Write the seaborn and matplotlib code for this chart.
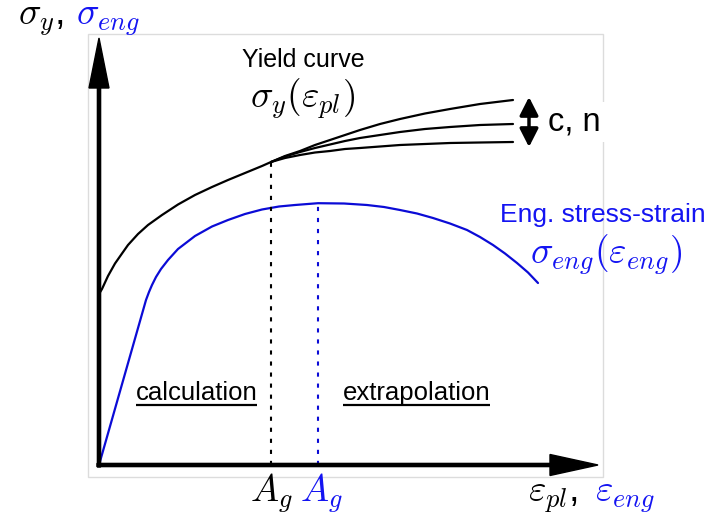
import numpy as np
import pandas as pd
import matplotlib
matplotlib.use("Agg")
import matplotlib.pyplot as plt
from matplotlib.patches import Rectangle
import seaborn as sns

# ---------------- data (schematic units) ----------------
# yield curve sigma_y(eps_pl) up to the uniform elongation A_g
yield_x = [0, 3, 9, 16, 23, 29, 39, 49, 63, 79, 96, 113, 129, 146, 163, 172]
yield_y = [171, 176, 189, 201.5, 211.5, 220, 231, 240, 250, 260.5, 270, 278, 285, 292, 299, 303]
# three extrapolated branches (different c, n)
branch_x = [172, 186, 201, 216, 231, 246, 261, 281, 301, 326, 351, 381, 414]
branch_top = [303, 309, 314, 320, 325, 330, 335, 341, 346, 351.5, 356, 361, 365]
branch_mid = [303, 308.5, 313, 317, 320.5, 324, 327, 330, 333, 336, 338, 340, 341]
branch_low = [303, 307, 310, 312.5, 314, 316, 317, 318.5, 320, 321, 322, 322.5, 323]
# engineering stress-strain curve
eng_x = [0, 47, 50, 53, 57, 62, 69, 79, 96, 113, 129, 146, 163, 180, 196, 219,
         245, 268, 285, 301, 318, 334, 351, 368, 381, 394, 406, 418, 429, 439]
eng_y = [0, 165, 173, 180, 188, 196, 205, 216, 229, 238.5, 245, 251, 255.5, 258.5, 260, 261.8,
         261.5, 260, 258, 255, 251.5, 247, 241.5, 235, 228, 220, 211.5, 202, 192.5, 182]

BLACK = "black"
BLUE_L = "#0b0bd6"
BLUE_T = "#1414f2"

sns.set_style("white")
plt.rcParams["font.family"] = ["Liberation Sans", "DejaVu Sans"]
plt.rcParams["mathtext.fontset"] = "cm"
plt.rcParams["text.color"] = "black"

fig = plt.figure(figsize=(7.19, 5.14), dpi=100)
ax = fig.add_axes([0, 0, 1, 1])
ax.set_xlim(-99, 620)
ax.set_ylim(-49, 465)
ax.axis("off")

# light frame
ax.add_patch(Rectangle((-11, -12), 515, 443, fill=False, ec="#dcdcdc", lw=1.0, zorder=0))

kw = dict(sort=False, estimator=None, lw=1.6, ax=ax)
# curves
sns.lineplot(x=yield_x, y=yield_y, color=BLACK, **kw)
for by in (branch_top, branch_mid, branch_low):
    sns.lineplot(x=branch_x, y=by, color=BLACK, **kw)
sns.lineplot(x=eng_x, y=eng_y, color=BLUE_L, **kw)
for ln in ax.lines:
    ln.set_solid_joinstyle("round")
    ln.set_solid_capstyle("round")

# A_g drop lines (dotted)
ag_pl = yield_x[-1]
ag_pl_y = yield_y[-1]
i_max = int(np.argmax(eng_y))
ag_eng = eng_x[i_max]
ag_eng_y = eng_y[i_max]
for xv, yv, c in ((ag_pl, ag_pl_y, BLACK), (ag_eng, ag_eng_y, BLUE_L)):
    sns.lineplot(x=[xv, xv], y=[0, yv], color=c, sort=False, estimator=None, lw=1.5, ax=ax)
    ax.lines[-1].set_dashes((2, 3.3))
    ax.lines[-1].set_dash_capstyle("butt")

# axis arrows
ax.arrow(0, -2, 0, 429, width=3.2, head_width=20, head_length=50,
         length_includes_head=True, color="black", zorder=5)
ax.arrow(-2, 0, 501, 0, width=3.2, head_width=21, head_length=48,
         length_includes_head=True, color="black", zorder=5)

# c, n double arrow
ax.annotate("", xy=(430, 368), xytext=(430, 318),
            arrowprops=dict(arrowstyle="<|-|>,head_length=0.55,head_width=0.28",
                            mutation_scale=20, lw=2.5, color="black",
                            shrinkA=0, shrinkB=0))
ax.text(449, 343, "c, n", fontsize=23.5, ha="left", va="center", color="black",
        bbox=dict(fc="white", ec="none", pad=3))

MS = 27
# axis labels
ax.text(-81, 440, r"$\sigma_y$,", fontsize=MS, ha="left", va="baseline", color=BLACK)
ax.text(-23, 440, r"$\sigma_{eng}$", fontsize=MS, ha="left", va="baseline", color=BLUE_T)
ax.text(429, -37, r"$\varepsilon_{pl}$,", fontsize=MS, ha="left", va="baseline", color=BLACK)
ax.text(496, -37, r"$\varepsilon_{eng}$", fontsize=MS, ha="left", va="baseline", color=BLUE_T)

# curve labels
ax.text(204, 405, "Yield curve", fontsize=18, ha="center", va="center", color=BLACK)
ax.text(204, 357, r"$\sigma_y(\varepsilon_{pl})$", fontsize=MS, ha="center",
        va="baseline", color=BLACK)
ax.text(504, 250, "Eng. stress-strain", fontsize=19, ha="center", va="center", color=BLUE_T)
ax.text(507.5, 201, r"$\sigma_{eng}(\varepsilon_{eng})$", fontsize=MS, ha="center",
        va="baseline", color=BLUE_T)

# A_g labels
ax.text(ag_pl, -37, r"$A_g$", fontsize=MS, ha="center", va="baseline", color=BLACK)
ax.text(ag_eng + 3, -37, r"$A_g$", fontsize=MS, ha="center", va="baseline", color=BLUE_T)

# region labels with underline
t1 = ax.text(97.5, 65, "calculation", fontsize=18.5, ha="center", va="baseline", color=BLACK)
t2 = ax.text(317.5, 65, "extrapolation", fontsize=18.5, ha="center", va="baseline", color=BLACK)

fig.canvas.draw()
r = fig.canvas.get_renderer()
inv = ax.transData.inverted()
for t in (t1, t2):
    bb = t.get_window_extent(r)
    (x0, _), (x1, _) = inv.transform([(bb.x0, bb.y0), (bb.x1, bb.y0)])
    ax.plot([x0, x1], [60, 60], color="black", lw=1.6, solid_capstyle="butt")

fig.savefig("out.png", dpi=100)
